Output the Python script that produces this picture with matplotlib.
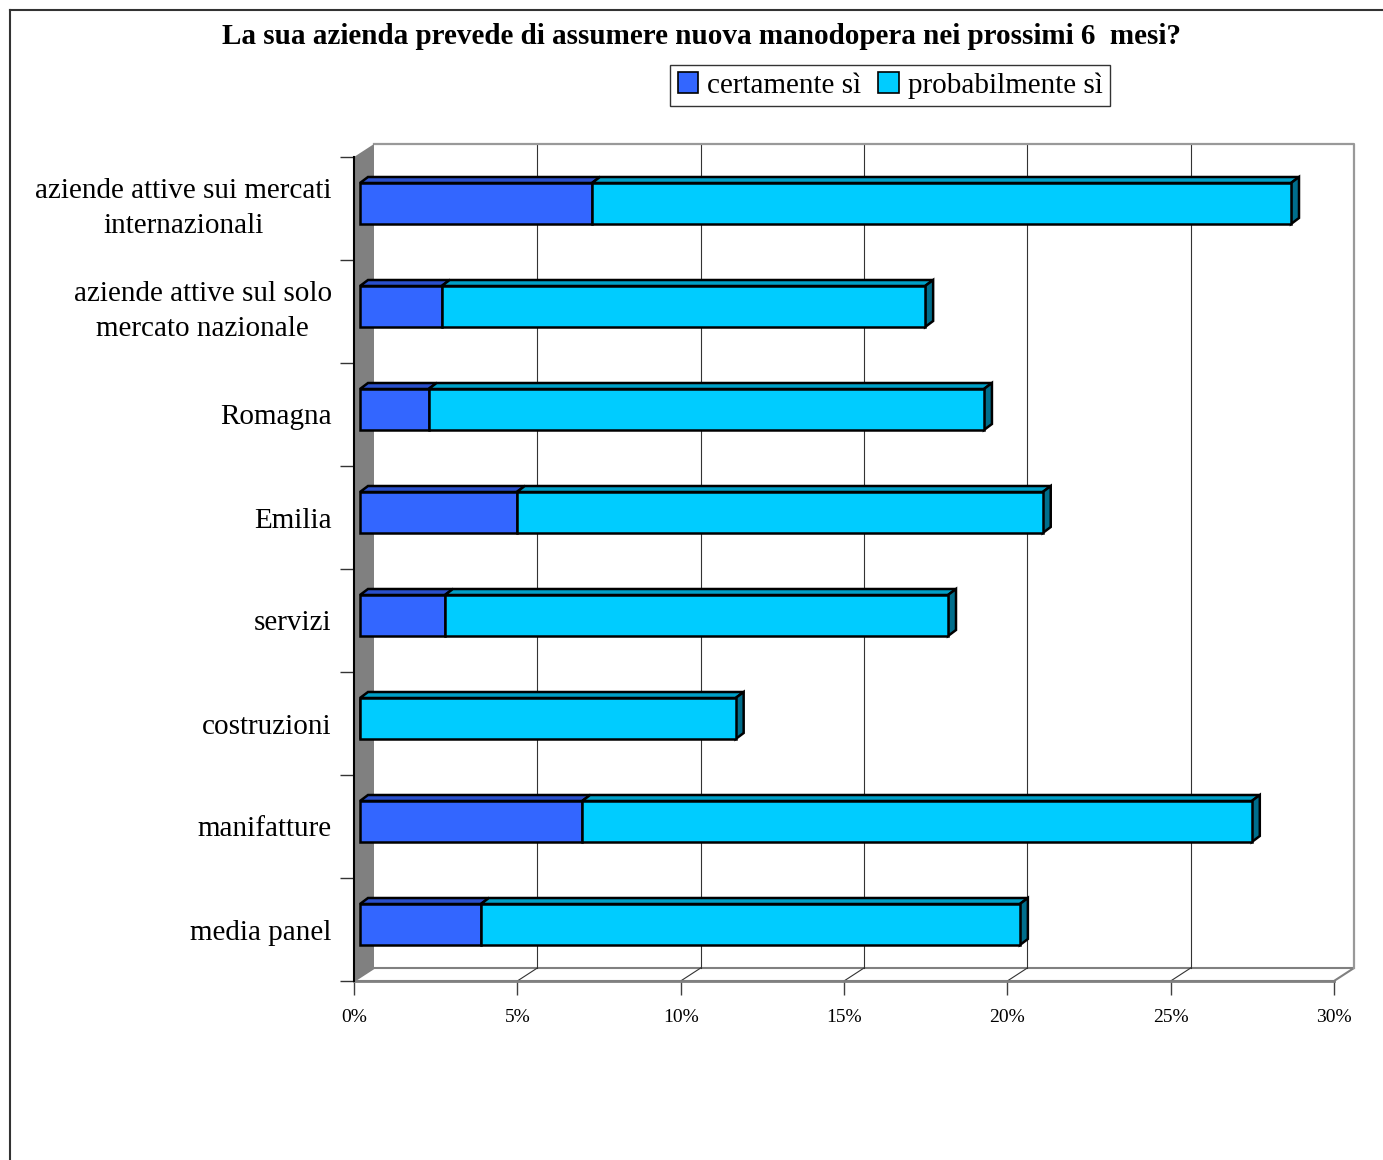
import matplotlib.pyplot as plt
import numpy as np
from matplotlib.patches import Polygon, Patch
from matplotlib.lines import Line2D

plt.rcParams['font.family'] = ['Liberation Serif', 'DejaVu Serif']

categories = ['aziende attive sui mercati\ninternazionali',
              'aziende attive sul solo\nmercato nazionale',
              'Romagna', 'Emilia', 'servizi', 'costruzioni',
              'manifatture', 'media panel']
certamente = [7.1, 2.5, 2.1, 4.8, 2.6, 0.0, 6.8, 3.7]
probabilmente = [21.4, 14.8, 17.0, 16.1, 15.4, 11.5, 20.5, 16.5]
series_names = ['certamente sì', 'probabilmente sì']
x_ticks = [0, 5, 10, 15, 20, 25, 30]
x_max = 30

# colori: faccia frontale, faccia superiore, fianco
col_cert = ('#3366FF', '#2A50CC', '#1F3D99')
col_prob = ('#00CCFF', '#00A0C8', '#006E8C')

W, H = 1383, 1160
fig = plt.figure(figsize=(W / 100, H / 100), dpi=100)
ax = fig.add_axes([354 / W, (H - 981) / H, 980 / W, 824 / H])
n = len(categories)
ax.set_xlim(0, x_max)
ax.set_ylim(n - 0.5, -0.5)

ppx = 980 / x_max
ppy = 824 / n


def d(px, py):
    # spostamento in pixel (destra, su) -> unita' dati
    return px / ppx, -py / ppy


# pareti 3D
wx, wy = d(20, 13)
top, bot = -0.5, n - 0.5
ax.add_patch(Polygon([(wx, top + wy), (x_max + wx, top + wy), (x_max + wx, bot + wy), (wx, bot + wy)],
                     closed=True, fc='white', ec='none', zorder=0, clip_on=False))
ax.add_patch(Polygon([(0, bot), (x_max, bot), (x_max + wx, bot + wy), (wx, bot + wy)],
                     closed=True, fc='white', ec='#808080', lw=1.5, zorder=1, clip_on=False))
for t in x_ticks[1:-1]:
    ax.plot([t + wx, t + wx], [top + wy, bot + wy], color='#333333', lw=0.8, zorder=1, clip_on=False)
    ax.plot([t, t + wx], [bot, bot + wy], color='#333333', lw=0.8, zorder=1, clip_on=False)
ax.plot([wx, x_max + wx, x_max + wx], [top + wy, top + wy, bot + wy], color='#999999', lw=1.6,
        zorder=1, clip_on=False)
ax.add_patch(Polygon([(0, top), (0, bot), (wx, bot + wy), (wx, top + wy)],
                     closed=True, fc='#808080', ec='none', zorder=2, clip_on=False))

# barre
fx, fy = d(6, 5)
bx, by = d(8, 6)
h = 41 / ppy
ypos = np.arange(n)
segments = [(np.zeros(n), np.array(certamente), col_cert),
            (np.array(certamente), np.array(probabilmente), col_prob)]
edge = dict(ec='black', lw=1.8, joinstyle='miter', clip_on=False)
for left, width, cols in segments:
    ax.barh(ypos + fy, width, height=h, left=left + fx, color=cols[0], zorder=4, **edge)
    for i in range(n):
        if width[i] <= 0:
            continue
        a = left[i] + fx
        b = a + width[i]
        yt = ypos[i] + fy - h / 2
        ax.add_patch(Polygon([(a, yt), (b, yt), (b + bx, yt + by), (a + bx, yt + by)],
                             closed=True, fc=cols[1], zorder=3, **edge))
# fianco a fine barra
totals = np.array(certamente) + np.array(probabilmente)
for i in range(n):
    e = totals[i] + fx
    yt = ypos[i] + fy - h / 2
    yb = ypos[i] + fy + h / 2
    ax.add_patch(Polygon([(e, yt), (e, yb), (e + bx, yb + by), (e + bx, yt + by)],
                         closed=True, fc=col_prob[2], zorder=3, **edge))

# assi
for s in ['top', 'right']:
    ax.spines[s].set_visible(False)
ax.spines['left'].set_color('black')
ax.spines['left'].set_linewidth(1.5)
ax.spines['left'].set_zorder(5)
ax.spines['bottom'].set_color('#808080')
ax.spines['bottom'].set_linewidth(2)
ax.set_facecolor('none')

ax.set_xticks(x_ticks, [f'{t}%' for t in x_ticks])
ax.tick_params(axis='x', length=10, width=1, color='#404040', labelsize=14, pad=10)
ax.set_yticks(np.arange(-0.5, n, 1.0))
ax.set_yticklabels([])
ax.tick_params(axis='y', which='major', length=10, width=1, color='#333333')
ax.set_yticks(ypos, categories, minor=True)
ax.tick_params(axis='y', which='minor', length=0, labelsize=21, pad=16)
for lbl in ax.get_yticklabels(minor=True):
    lbl.set_multialignment('center')
    lbl.set_linespacing(1.45)
    if '\n' in lbl.get_text():
        lbl.set_verticalalignment('center')

fig.text(702 / W, 1 - 37 / H, 'La sua azienda prevede di assumere nuova manodopera nei prossimi 6  mesi?',
         ha='center', va='center', fontsize=21, fontweight='bold')

handles = [Patch(fc=col_cert[0], ec='black', lw=1.2), Patch(fc=col_prob[0], ec='black', lw=1.2)]
leg = fig.legend(handles, series_names, ncol=2, loc='center', bbox_to_anchor=(890 / W, 1 - 85.5 / H),
                 frameon=True, fancybox=False, edgecolor='black', fontsize=21,
                 handlelength=0.7, handleheight=0.7, handletextpad=0.3, columnspacing=0.6,
                 borderpad=0.25, borderaxespad=0)
leg.get_frame().set_linewidth(1)

# cornice del grafico
fig.add_artist(Line2D([10 / W, 10 / W], [0, 1 - 10 / H], color='#333333', lw=1.5, transform=fig.transFigure))
fig.add_artist(Line2D([10 / W, 1], [1 - 10 / H, 1 - 10 / H], color='#333333', lw=1.5, transform=fig.transFigure))

fig.savefig('out.png', dpi=100)
